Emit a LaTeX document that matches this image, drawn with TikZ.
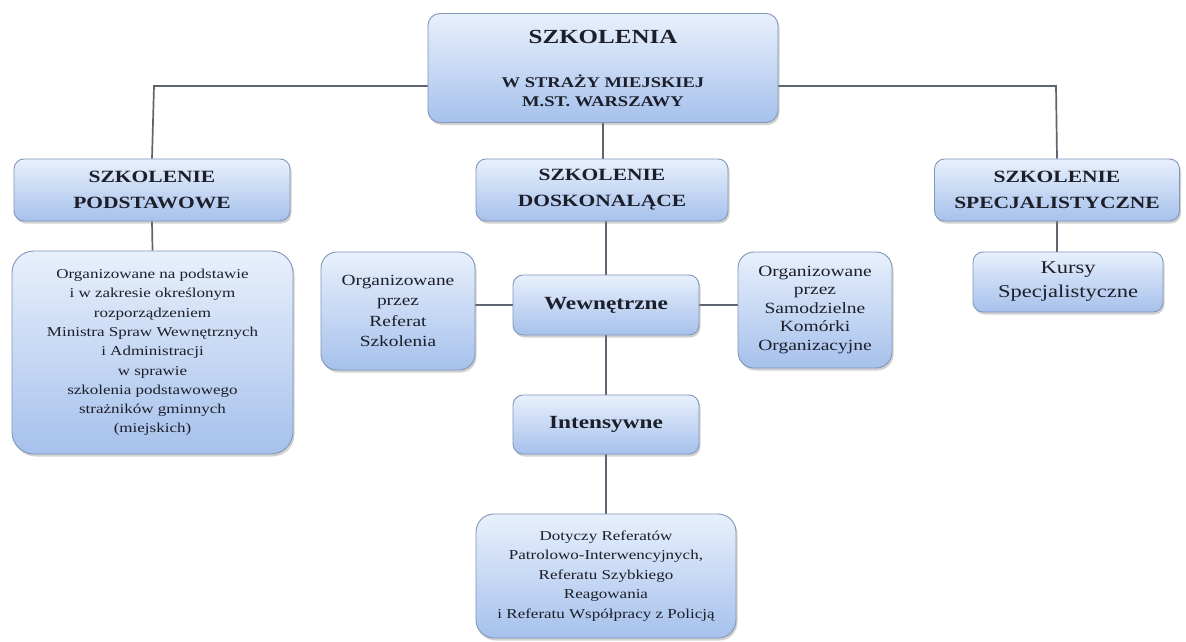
\documentclass[tikz,border=0pt]{standalone}
\usepackage{fontspec}
\setmainfont[FakeStretch=1.25]{Liberation Serif}
\usetikzlibrary{shadows,backgrounds}
\definecolor{boxtop}{HTML}{E8F0FC}
\definecolor{boxbot}{HTML}{A6C1EC}
\definecolor{boxline}{HTML}{8296B8}
\definecolor{conn}{HTML}{5E6470}
\definecolor{txt}{HTML}{1C1F2A}
\tikzset{
  box/.style={draw=boxline, line width=0.9pt, top color=boxtop, bottom color=boxbot,
    rounded corners=10pt, align=center, inner sep=0pt, text=txt,
    drop shadow={opacity=0.35, shadow xshift=1.5pt, shadow yshift=-2.5pt}},
  conline/.style={draw=conn, line width=1.7pt},
  lvlone/.style={box, minimum height=62pt, font=\fontsize{17.2}{26}\selectfont\bfseries}
}
\begin{document}
\begin{tikzpicture}[x=1pt,y=-1pt]
\begin{scope}[on background layer]
\fill[white] (0,0) rectangle (1186,642);
\end{scope}
\useasboundingbox (0,0) rectangle (1186,642);
\coordinate (hl) at (154,86);
\coordinate (hr) at (1056,86);
\node[box, rounded corners=12pt, minimum width=350pt, minimum height=109pt,
  font=\fontsize{14.8}{19}\selectfont\bfseries] (top) at (603,68)
  {{\fontsize{20}{22}\selectfont SZKOLENIA}\\[25pt]
   W STRAŻY MIEJSKIEJ\\ M.ST. WARSZAWY};
\node[lvlone, minimum width=276pt] (l1l) at (152,190)
  {SZKOLENIE\\ PODSTAWOWE};
\node[lvlone, minimum width=252pt] (l1m) at (602,190)
  {SZKOLENIE\\ DOSKONALĄCE};
\node[lvlone, minimum width=245pt] (l1r) at (1057,190)
  {SZKOLENIE\\ SPECJALISTYCZNE};
\node[box, rounded corners=22pt, minimum width=281pt, minimum height=203pt,
  font=\fontsize{13.6}{19.3}\selectfont] (l2l) at (152.5,352.5)
  {Organizowane na podstawie\\ i w zakresie określonym\\ rozporządzeniem\\
   Ministra Spraw Wewnętrznych\\ i Administracji\\ w sprawie\\ szkolenia podstawowego\\
   strażników gminnych\\ (miejskich)};
\node[box, rounded corners=16pt, minimum width=154pt, minimum height=118pt,
  font=\fontsize{15.5}{20.5}\selectfont] (ref) at (398,311)
  {Organizowane\\ przez\\ Referat\\ Szkolenia};
\node[box, minimum width=186pt, minimum height=60pt, font=\fontsize{18.6}{20}\selectfont\bfseries] (wew) at (606,305)
  {Wewnętrzne};
\node[box, rounded corners=16pt, minimum width=154pt, minimum height=116pt,
  font=\fontsize{15.6}{18.5}\selectfont] (sam) at (815,310)
  {Organizowane\\ przez\\ Samodzielne\\ Komórki\\ Organizacyjne};
\node[box, minimum width=186pt, minimum height=59pt, font=\fontsize{18.6}{20}\selectfont\bfseries] (int) at (606,424.5)
  {Intensywne};
\node[box, rounded corners=18pt, minimum width=260pt, minimum height=124pt,
  font=\fontsize{13.6}{19.5}\selectfont] (bot) at (606,576)
  {Dotyczy Referatów\\ Patrolowo-Interwencyjnych,\\ Referatu Szybkiego\\
   Reagowania\\ i Referatu Współpracy z Policją};
\node[box, minimum width=190pt, minimum height=60pt, font=\fontsize{18}{24}\selectfont] (kur) at (1068,282)
  {Kursy\\ Specjalistyczne};
\begin{scope}[on background layer]
\draw[conline] (l1l.north) -- (hl) -- (hr) -- (l1r.north);
\draw[conline] (top.south) -- (top.south |- l1m.north);
\draw[conline] (l1l.south) -- (l2l.north);
\draw[conline] (wew.north) -- (wew.north |- l1m.south);
\draw[conline] (ref.east |- wew.west) -- (wew.west);
\draw[conline] (wew.east) -- (sam.west |- wew.east);
\draw[conline] (wew.south) -- (int.north);
\draw[conline] (int.south) -- (bot.north -| int.south);
\draw[conline] (kur.north -| l1r.south) -- (l1r.south);
\end{scope}
\end{tikzpicture}
\end{document}
